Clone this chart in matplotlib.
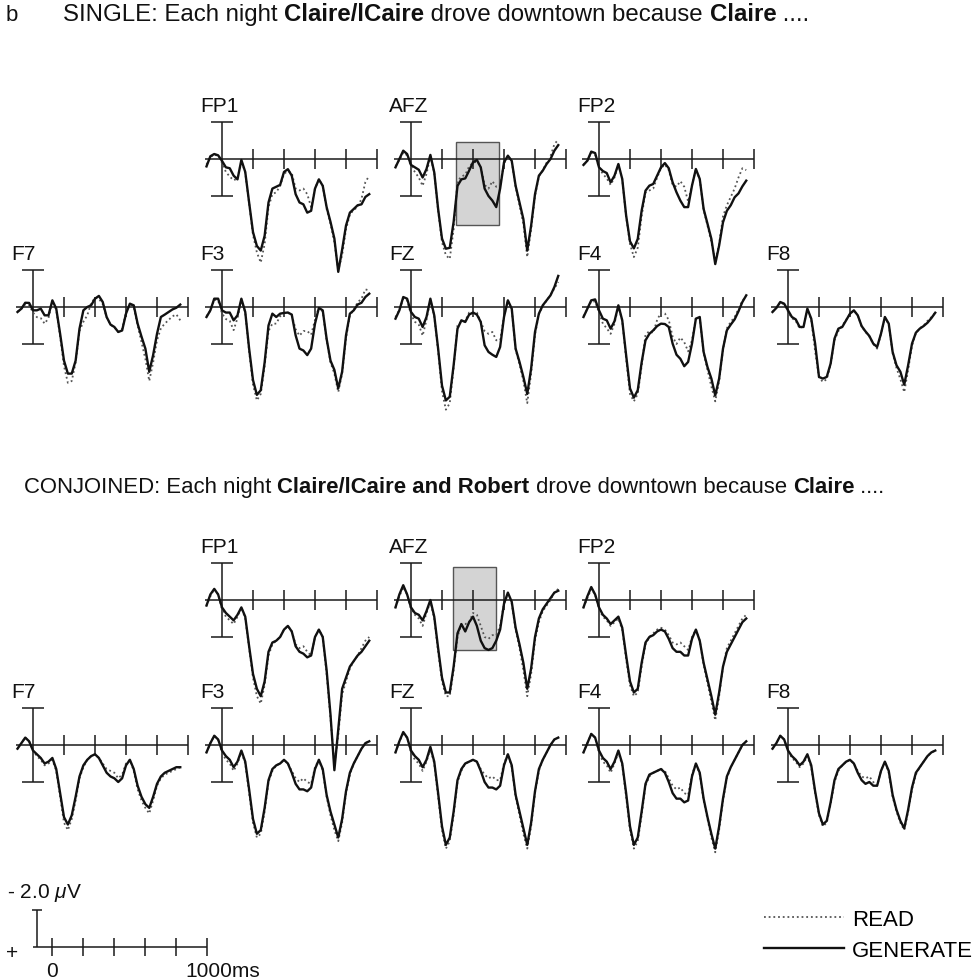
import numpy as np
import matplotlib
matplotlib.use('Agg')
import matplotlib.pyplot as plt
from matplotlib.patches import Rectangle

plt.rcParams['font.family'] = ['Liberation Sans', 'DejaVu Sans']
plt.rcParams['mathtext.fontset'] = 'custom'
plt.rcParams['mathtext.it'] = 'Liberation Sans:italic'
plt.rcParams['mathtext.rm'] = 'Liberation Sans'

# ---- data: grand-average ERPs (microvolts, positive plotted downward) ----
TIMES = np.arange(-100, 951, 25)   # ms

single_read = {
    "FP1": [0.30, -0.10, -0.25, -0.15, 0.20, 0.70, 0.95, 1.15, 1.05, 0.10, 0.75, 2.40, 4.10, 5.05, 5.60, 4.60, 2.60, 1.90, 1.80, 1.45, 0.80, 0.65, 0.75, 1.60, 1.70, 1.60, 1.90, 2.60, 1.60, 1.10, 1.45, 2.70, 3.50, 4.50, 6.00, 5.20, 3.80, 3.00, 2.75, 2.60, 2.15, 1.25, 0.90],
    "AFZ": [0.40, 0.05, -0.35, -0.20, 0.40, 0.70, 1.00, 1.45, 0.80, -0.15, 0.75, 2.80, 4.50, 5.20, 5.40, 3.80, 1.20, 0.95, 0.85, 0.40, 0.20, 0.15, 0.40, 1.40, 1.60, 1.20, 1.50, 1.40, 0.25, -0.15, 0.15, 1.50, 2.50, 3.50, 5.30, 3.80, 2.00, 0.95, 0.60, 0.20, -0.15, -0.80, -1.05],
    "FP2": [0.30, 0.10, -0.35, -0.25, 0.50, 0.80, 1.05, 1.40, 1.00, 0.30, 1.10, 3.10, 4.60, 5.30, 4.80, 3.10, 1.80, 1.70, 1.60, 1.00, 0.50, 0.30, 0.60, 1.40, 1.50, 1.20, 1.50, 2.30, 1.40, 0.55, 1.10, 2.75, 3.60, 4.50, 5.50, 4.60, 3.10, 2.50, 2.05, 1.60, 1.00, 0.50, 0.60],
    "F7":  [0.25, 0.10, -0.15, -0.10, 0.30, 0.55, 0.60, 0.90, 0.60, -0.30, 0.15, 1.60, 3.20, 4.10, 4.00, 3.00, 1.30, 0.80, 0.45, -0.20, -0.50, -0.45, -0.15, 0.55, 0.95, 1.10, 1.35, 1.20, 0.30, -0.15, 0.00, 1.00, 1.90, 2.80, 4.00, 3.00, 1.80, 1.15, 0.90, 0.70, 0.50, 0.40, 0.72],
    "F3":  [0.50, 0.20, -0.40, -0.35, 0.35, 0.65, 0.75, 1.25, 0.60, -0.40, 0.30, 2.40, 4.20, 5.05, 4.70, 3.20, 1.30, 0.90, 0.90, 0.50, 0.35, 0.30, 0.45, 1.20, 1.55, 1.30, 1.30, 1.50, 0.70, 0.00, 0.25, 1.80, 3.00, 3.60, 4.60, 3.60, 1.70, 0.45, 0.15, -0.25, -0.45, -0.95, -0.90],
    "FZ":  [0.55, 0.15, -0.45, -0.35, 0.40, 0.80, 0.95, 1.55, 0.70, -0.40, 0.50, 2.40, 4.55, 5.55, 5.20, 3.30, 1.00, 0.80, 0.75, 0.30, 0.25, 0.30, 0.80, 1.30, 1.45, 1.35, 1.80, 1.80, 0.50, -0.35, 0.15, 2.30, 3.10, 4.00, 5.20, 3.60, 1.50, 0.40, -0.05, -0.35, -0.65, -1.00, -1.35],
    "F4":  [0.50, 0.10, -0.30, -0.30, 0.30, 0.90, 1.15, 1.45, 0.90, -0.05, 0.75, 2.80, 4.70, 5.10, 4.70, 3.20, 1.50, 1.30, 1.40, 0.70, 0.30, 0.35, 0.70, 1.60, 2.00, 1.65, 1.90, 2.40, 1.80, 0.60, 0.60, 2.50, 3.40, 4.30, 5.10, 4.00, 2.30, 1.15, 0.80, 0.55, 0.10, -0.35, -0.55],
    "F8":  [0.25, 0.05, -0.25, -0.15, 0.25, 0.60, 0.75, 1.15, 1.05, 0.10, 0.70, 2.40, 3.80, 4.05, 3.90, 3.10, 1.80, 1.30, 1.00, 0.70, 0.35, 0.20, 0.45, 1.05, 1.35, 1.60, 2.00, 2.25, 1.45, 0.55, 0.95, 2.50, 3.30, 3.90, 4.60, 3.40, 2.10, 1.40, 1.15, 1.00, 0.75, 0.55, 0.30],
}

single_gen = {
    "FP1": [0.40, -0.15, -0.27, -0.20, 0.10, 0.45, 0.50, 0.90, 1.10, 0.05, 0.70, 2.35, 3.95, 4.70, 4.95, 4.15, 2.35, 1.60, 1.50, 1.40, 0.70, 0.55, 0.90, 1.90, 2.35, 2.45, 2.90, 2.80, 1.60, 1.10, 1.45, 2.60, 3.40, 4.30, 6.10, 4.90, 3.60, 2.90, 2.70, 2.50, 2.45, 2.05, 1.90],
    "AFZ": [0.45, 0.00, -0.45, -0.27, 0.32, 0.45, 0.58, 1.00, 0.54, -0.22, 0.72, 2.70, 4.30, 4.85, 4.80, 3.40, 1.45, 1.10, 1.05, 0.63, 0.18, 0.05, 0.45, 1.60, 2.00, 2.25, 2.60, 1.60, 0.18, -0.18, 0.10, 1.45, 2.35, 3.25, 4.95, 3.60, 1.90, 0.90, 0.63, 0.27, 0.00, -0.45, -0.75],
    "FP2": [0.32, 0.09, -0.40, -0.32, 0.45, 0.65, 0.76, 1.26, 0.90, 0.27, 1.08, 3.05, 4.45, 4.83, 4.32, 2.80, 1.71, 1.44, 1.35, 0.90, 0.45, 0.22, 0.50, 1.26, 1.80, 2.25, 2.60, 2.60, 1.44, 0.54, 1.08, 2.70, 3.50, 4.32, 5.68, 4.68, 3.42, 2.80, 2.50, 2.07, 1.86, 1.48, 1.17],
    "F7":  [0.27, 0.09, -0.23, -0.22, 0.18, 0.18, 0.09, 0.45, 0.45, -0.36, 0.09, 1.45, 2.90, 3.60, 3.60, 2.90, 1.17, 0.18, 0.00, -0.09, -0.45, -0.60, -0.27, 0.54, 0.95, 1.08, 1.35, 1.27, 0.36, -0.18, -0.09, 0.90, 1.60, 2.25, 3.50, 2.60, 1.45, 0.54, 0.41, 0.27, 0.13, 0.04, -0.13],
    "F3":  [0.54, 0.18, -0.45, -0.45, 0.18, 0.30, 0.30, 0.72, 0.45, -0.45, 0.27, 2.25, 3.95, 4.75, 4.50, 3.00, 1.00, 0.36, 0.54, 0.36, 0.32, 0.30, 0.41, 1.53, 2.25, 2.35, 2.60, 2.25, 0.90, 0.05, 0.18, 1.72, 2.90, 3.40, 4.40, 3.50, 1.53, 0.36, 0.18, -0.13, -0.23, -0.54, -0.72],
    "FZ":  [0.63, 0.18, -0.54, -0.45, 0.27, 0.54, 0.63, 1.08, 0.54, -0.45, 0.45, 2.25, 4.25, 5.05, 4.85, 3.15, 1.17, 0.72, 0.81, 0.41, 0.30, 0.41, 0.81, 2.07, 2.43, 2.58, 2.70, 2.16, 0.54, -0.36, 0.09, 2.25, 2.97, 3.78, 4.70, 3.33, 1.35, 0.36, -0.09, -0.36, -0.63, -1.08, -1.68],
    "F4":  [0.54, 0.09, -0.36, -0.41, 0.18, 0.63, 0.72, 1.17, 0.77, -0.09, 0.72, 2.60, 4.40, 4.90, 4.50, 3.00, 1.80, 1.45, 1.26, 1.03, 0.90, 0.92, 1.08, 1.98, 2.58, 2.80, 3.20, 2.97, 1.98, 0.63, 0.54, 2.43, 3.25, 3.87, 4.78, 3.87, 2.25, 1.26, 0.95, 0.67, 0.23, -0.27, -0.63],
    "F8":  [0.27, 0.05, -0.27, -0.18, 0.18, 0.54, 0.67, 1.08, 1.08, 0.09, 0.63, 1.98, 3.78, 3.87, 3.78, 3.06, 1.71, 1.17, 1.08, 0.72, 0.36, 0.18, 0.45, 1.03, 1.32, 1.57, 1.98, 2.16, 1.44, 0.54, 0.90, 2.43, 3.15, 3.50, 4.20, 3.15, 1.98, 1.39, 1.17, 1.03, 0.85, 0.60, 0.31],
}

conj_read = {
    "FP1": [0.30, -0.20, -0.60, -0.30, 0.50, 0.90, 1.10, 1.30, 0.90, 0.40, 1.00, 2.60, 4.20, 5.20, 5.60, 4.60, 3.00, 2.40, 2.20, 2.00, 1.60, 1.40, 1.70, 2.40, 2.60, 2.50, 2.80, 3.00, 2.00, 1.60, 2.00, 4.00, 6.40, 8.90, 7.30, 5.10, 4.40, 3.70, 3.30, 3.00, 2.60, 2.20, 2.00],
    "AFZ": [0.40, -0.20, -0.70, -0.30, 0.50, 0.80, 1.00, 1.40, 0.70, 0.10, 1.00, 2.80, 4.40, 5.20, 5.20, 3.80, 2.00, 1.30, 1.30, 1.20, 0.70, 0.80, 1.40, 2.00, 2.10, 1.90, 1.90, 1.40, 0.20, -0.30, 0.20, 1.60, 2.60, 3.80, 5.20, 4.00, 2.20, 1.20, 0.60, 0.30, 0.00, -0.40, -0.60],
    "FP2": [0.40, -0.10, -0.60, -0.30, 0.50, 0.90, 1.10, 1.40, 1.20, 1.00, 1.60, 3.20, 4.60, 5.20, 5.00, 3.60, 2.40, 2.00, 1.80, 1.60, 1.50, 1.60, 1.90, 2.30, 2.40, 2.30, 2.50, 2.70, 2.00, 1.60, 2.20, 3.50, 4.50, 5.50, 6.50, 5.20, 3.60, 2.60, 2.20, 1.80, 1.40, 1.00, 0.80],
    "F7":  [0.20, -0.10, -0.40, -0.20, 0.30, 0.60, 0.80, 1.10, 1.00, 0.80, 1.40, 2.80, 4.20, 4.60, 4.00, 3.00, 1.80, 1.20, 0.80, 0.60, 0.50, 0.70, 1.00, 1.30, 1.40, 1.50, 1.80, 1.60, 1.00, 0.80, 1.40, 2.40, 3.00, 3.40, 3.70, 3.00, 2.20, 1.80, 1.60, 1.50, 1.40, 1.30, 1.20],
    "F3":  [0.40, -0.10, -0.50, -0.30, 0.40, 0.80, 1.00, 1.40, 1.00, 0.40, 1.00, 2.60, 4.20, 5.00, 4.80, 3.60, 2.00, 1.40, 1.10, 1.00, 0.80, 1.00, 1.40, 1.80, 2.00, 1.80, 2.00, 2.10, 1.20, 0.80, 1.40, 2.80, 3.80, 4.60, 5.20, 4.20, 2.60, 1.60, 1.00, 0.60, 0.20, -0.10, -0.20],
    "FZ":  [0.40, -0.20, -0.60, -0.40, 0.40, 0.80, 1.00, 1.40, 0.90, 0.20, 1.00, 2.80, 4.60, 5.60, 5.20, 3.80, 2.00, 1.40, 1.00, 0.90, 0.80, 0.90, 1.30, 1.60, 1.80, 1.70, 1.90, 1.90, 1.00, 0.50, 1.20, 2.80, 3.80, 4.80, 5.60, 4.40, 2.60, 1.40, 0.80, 0.40, 0.00, -0.30, -0.40],
    "F4":  [0.40, -0.10, -0.60, -0.40, 0.40, 0.90, 1.10, 1.50, 1.00, 0.40, 1.10, 2.80, 4.60, 5.60, 5.20, 3.80, 2.20, 1.70, 1.50, 1.40, 1.30, 1.40, 1.80, 2.20, 2.40, 2.30, 2.60, 2.70, 1.60, 1.00, 1.60, 3.00, 4.00, 5.00, 5.80, 4.60, 3.00, 1.80, 1.20, 0.80, 0.40, 0.00, -0.20],
    "F8":  [0.20, -0.10, -0.50, -0.30, 0.30, 0.70, 0.90, 1.20, 1.00, 0.60, 1.20, 2.60, 3.80, 4.40, 4.20, 3.20, 2.00, 1.40, 1.10, 0.90, 0.80, 1.00, 1.40, 1.70, 1.80, 1.70, 2.00, 2.20, 1.40, 0.90, 1.50, 2.80, 3.60, 4.20, 4.60, 3.60, 2.40, 1.60, 1.20, 0.90, 0.60, 0.40, 0.30],
}

conj_gen = {
    "FP1": [0.30, -0.30, -0.60, -0.30, 0.40, 0.70, 0.90, 1.10, 0.80, 0.40, 0.90, 2.50, 4.00, 4.80, 5.20, 4.40, 2.80, 2.30, 2.20, 2.00, 1.60, 1.40, 1.70, 2.50, 2.80, 2.90, 3.10, 3.00, 2.00, 1.60, 2.00, 3.80, 6.20, 9.20, 7.00, 4.80, 4.20, 3.60, 3.30, 3.00, 2.80, 2.50, 2.20],
    "AFZ": [0.40, -0.30, -0.80, -0.30, 0.40, 0.70, 0.80, 1.10, 0.60, 0.00, 0.90, 2.60, 4.20, 5.00, 5.00, 3.60, 1.80, 1.30, 1.70, 1.20, 0.90, 1.40, 2.20, 2.60, 2.70, 2.60, 2.20, 1.60, 0.20, -0.40, 0.10, 1.50, 2.40, 3.40, 4.80, 3.70, 2.00, 1.00, 0.50, 0.20, -0.10, -0.40, -0.50],
    "FP2": [0.40, -0.20, -0.70, -0.30, 0.40, 0.80, 1.00, 1.30, 1.10, 0.90, 1.50, 3.00, 4.40, 5.00, 4.80, 3.40, 2.30, 2.00, 1.90, 1.70, 1.60, 1.70, 2.10, 2.60, 2.80, 2.80, 3.00, 3.00, 2.10, 1.60, 2.20, 3.40, 4.30, 5.20, 6.20, 5.00, 3.60, 2.80, 2.40, 2.00, 1.60, 1.20, 1.00],
    "F7":  [0.20, -0.10, -0.40, -0.20, 0.30, 0.50, 0.70, 1.00, 0.90, 0.70, 1.30, 2.60, 3.90, 4.30, 3.80, 2.80, 1.70, 1.10, 0.80, 0.60, 0.50, 0.70, 1.10, 1.50, 1.70, 1.80, 2.00, 1.80, 1.10, 0.80, 1.30, 2.20, 2.80, 3.20, 3.40, 2.80, 2.10, 1.70, 1.50, 1.40, 1.30, 1.20, 1.20],
    "F3":  [0.40, -0.10, -0.50, -0.30, 0.30, 0.60, 0.80, 1.20, 0.90, 0.30, 0.90, 2.40, 4.00, 4.80, 4.60, 3.40, 1.90, 1.30, 1.10, 1.00, 0.80, 1.00, 1.50, 2.10, 2.40, 2.40, 2.50, 2.30, 1.30, 0.80, 1.30, 2.70, 3.60, 4.30, 5.00, 4.00, 2.50, 1.50, 1.00, 0.60, 0.20, -0.10, -0.20],
    "FZ":  [0.40, -0.20, -0.70, -0.40, 0.30, 0.60, 0.80, 1.20, 0.80, 0.10, 0.90, 2.60, 4.40, 5.40, 5.00, 3.60, 1.90, 1.30, 1.00, 0.90, 0.80, 0.90, 1.40, 2.00, 2.30, 2.30, 2.40, 2.20, 1.10, 0.50, 1.10, 2.70, 3.60, 4.50, 5.40, 4.20, 2.50, 1.30, 0.80, 0.40, 0.00, -0.30, -0.40],
    "F4":  [0.40, -0.10, -0.60, -0.40, 0.30, 0.70, 0.90, 1.30, 0.90, 0.30, 1.00, 2.60, 4.40, 5.40, 5.00, 3.60, 2.10, 1.60, 1.50, 1.40, 1.30, 1.50, 2.00, 2.60, 2.90, 2.90, 3.10, 3.00, 1.70, 1.00, 1.50, 2.90, 3.90, 4.80, 5.60, 4.40, 2.90, 1.70, 1.20, 0.80, 0.40, 0.00, -0.20],
    "F8":  [0.20, -0.10, -0.50, -0.30, 0.30, 0.60, 0.80, 1.10, 0.90, 0.50, 1.10, 2.50, 3.70, 4.30, 4.10, 3.10, 1.90, 1.30, 1.10, 0.90, 0.80, 1.00, 1.50, 1.90, 2.10, 2.00, 2.20, 2.20, 1.40, 0.90, 1.40, 2.70, 3.50, 4.10, 4.50, 3.50, 2.30, 1.50, 1.20, 0.90, 0.60, 0.40, 0.30],
}

# analysis windows shown on AFZ: (t_start, t_end, v_top, v_bottom)
single_window = (290, 570, -0.92, 3.57)
conj_window = (271, 548, -1.78, 2.70)

tick_times = [200, 400, 600, 800, 1000]
scale_ticks = [0, 200, 400, 600, 800, 1000]

# ---- layout (pixels) ----
W, H = 973, 979
PX = 0.155    # px per ms
PY = 18.5     # px per microvolt
COL_X = [33, 222, 411, 599, 788]
LAYOUT = [("FP1", 1, 0), ("AFZ", 2, 0), ("FP2", 3, 0),
          ("F7", 0, 1), ("F3", 1, 1), ("FZ", 2, 1), ("F4", 3, 1), ("F8", 4, 1)]

AX_COL = "#1a1a1a"
T_LO, T_HI = -300, 1150
V_LO, V_HI = -4.0, 10.5

fig = plt.figure(figsize=(W / 100, H / 100), dpi=100)
fig.patch.set_facecolor("white")


def make_panel(x0, yb):
    left = (x0 + T_LO * PX) / W
    width = (T_HI - T_LO) * PX / W
    bottom = 1 - (yb + V_HI * PY) / H
    height = (V_HI - V_LO) * PY / H
    ax = fig.add_axes([left, bottom, width, height])
    ax.set_xlim(T_LO, T_HI)
    ax.set_ylim(V_HI, V_LO)   # negative up
    ax.axis("off")
    return ax


def draw_frame(ax):
    kw = dict(color=AX_COL, lw=1.1, solid_capstyle="butt", zorder=2)
    ax.plot([-110, 1000], [0, 0], **kw)
    for tk in tick_times:
        ax.plot([tk, tk], [-0.55, 0.55], **kw)
    ax.plot([0, 0], [-2, 2], **kw)
    ax.plot([-72, 68], [-2, -2], **kw)
    ax.plot([-72, 68], [2, 2], **kw)


def draw_condition(yb_top, yb_bot, reads, gens, window):
    handles = None
    for name, col, row in LAYOUT:
        yb = yb_top if row == 0 else yb_bot
        ax = make_panel(COL_X[col], yb)
        if name == "AFZ":
            t0, t1, v0, v1 = window
            ax.add_patch(Rectangle((t0, v0), t1 - t0, v1 - v0, facecolor="#d4d4d4",
                                   edgecolor="#555555", lw=1.0, zorder=1))
        draw_frame(ax)
        ax.text(-140, -2.6, name, fontsize=15, ha="left", va="baseline", color="#111111")
        l1, = ax.plot(TIMES, reads[name], color="#555555", lw=1.3,
                      linestyle=(0, (1, 1.6)), zorder=3)
        l2, = ax.plot(TIMES, gens[name], color="#111111", lw=1.7, zorder=4)
        handles = (l1, l2)
    return handles


def rich_text(x_px, y_px, parts, size):
    renderer = fig.canvas.get_renderer()
    x = x_px / W
    for s, bold in parts:
        t = fig.text(x, 1 - y_px / H, s, fontsize=size, ha="left", va="baseline",
                     fontweight="bold" if bold else "normal", color="#111111")
        x += t.get_window_extent(renderer).width / W


read_line, gen_line = draw_condition(160, 308, single_read, single_gen, single_window)
draw_condition(601, 746, conj_read, conj_gen, conj_window)

fig.text(6 / W, 1 - 21 / H, "b", fontsize=16, ha="left", va="baseline", color="#111111")
rich_text(63, 21, [("SINGLE: Each night ", False), ("Claire/lCaire", True),
                   (" drove downtown because ", False), ("Claire", True), (" ....", False)], 17.3)
rich_text(24, 493, [("CONJOINED: Each night ", False), ("Claire/lCaire and Robert", True),
                    (" drove downtown because ", False), ("Claire", True), (" ....", False)], 15.9)

# calibration bar
sax = make_panel(51.7, 948)
kw = dict(color=AX_COL, lw=1.1, solid_capstyle="butt")
sax.plot([-120, 1000], [0, 0], **kw)
for tk in scale_ticks:
    sax.plot([tk, tk], [-0.47, 0.47], **kw)
sax.plot([-97, -97], [0, -2], **kw)
sax.plot([-125, -65], [-2, -2], **kw)
sax.text(-288, -2.97, "- 2.0 $\\mu$V", fontsize=15, ha="left", va="center", color="#111111")
sax.text(-255, 0.3, "+", fontsize=15, ha="center", va="center", color="#111111")
sax.text(0, 1.25, "0", fontsize=15, ha="center", va="center", color="#111111")
sax.text(860, 1.25, "1000ms", fontsize=15, ha="left", va="center", color="#111111")

fig.legend([read_line, gen_line], ["READ", "GENERATE"], loc="lower right",
           bbox_to_anchor=(1.0, 1 - 962 / H), frameon=False, fontsize=16,
           handlelength=3.6, handletextpad=0.35, labelspacing=0.45, borderpad=0.0,
           borderaxespad=0.0)

plt.savefig("out.png", dpi=100, facecolor="white")
plt.close()
